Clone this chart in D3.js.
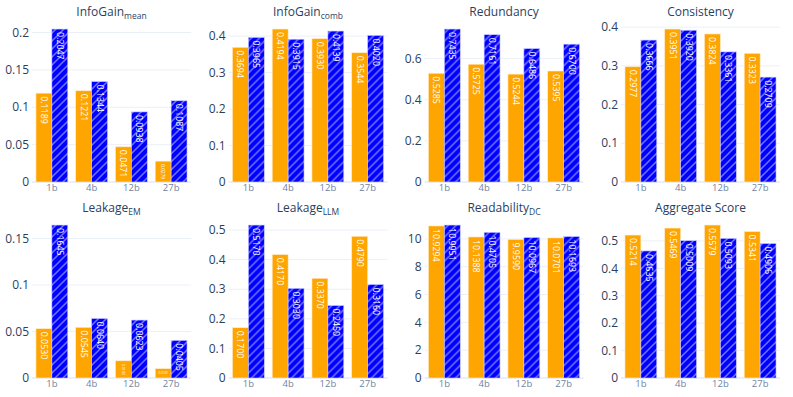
<!DOCTYPE html>
<html>
<head>
<meta charset="utf-8">
<script src="https://cdn.jsdelivr.net/npm/d3@7"></script>
<style>
  body { margin: 0; background: #fff; }
  svg { font-family: "Open Sans", verdana, arial, sans-serif; }
</style>
</head>
<body>
<svg id="chart" width="793" height="397"></svg>
<script>
// categories
const models = ['1b', '4b', '12b', '27b'];

// orange series (a) and hatched blue series (b), one pair per metric
const infoGainMeanA = [0.1189, 0.1221, 0.0471, 0.0279];
const infoGainMeanB = [0.2047, 0.1344, 0.0938, 0.1087];
const infoGainCombA = [0.3694, 0.4194, 0.3930, 0.3544];
const infoGainCombB = [0.3965, 0.3915, 0.4139, 0.4020];
const redundancyA = [0.5285, 0.5725, 0.5244, 0.5395];
const redundancyB = [0.7435, 0.7161, 0.6486, 0.6700];
const consistencyA = [0.2977, 0.3951, 0.3824, 0.3323];
const consistencyB = [0.3666, 0.3920, 0.3361, 0.2709];
const leakageEmA = [0.0530, 0.0545, 0.0185, 0.0100];
const leakageEmB = [0.1645, 0.0640, 0.0623, 0.0405];
const leakageLlmA = [0.1700, 0.4170, 0.3370, 0.4790];
const leakageLlmB = [0.5170, 0.3030, 0.2450, 0.3160];
const readabilityA = [10.9294, 10.1388, 9.9590, 10.0701];
const readabilityB = [10.9951, 10.4705, 10.0967, 10.1693];
const aggregateA = [0.5214, 0.5469, 0.5579, 0.5341];
const aggregateB = [0.4635, 0.5009, 0.5093, 0.4906];

// y tick values
const ticksInfoGainMean = [0, 0.05, 0.1, 0.15, 0.2];
const ticksInfoGainComb = [0, 0.1, 0.2, 0.3, 0.4];
const ticksRedundancy = [0, 0.2, 0.4, 0.6];
const ticksConsistency = [0, 0.1, 0.2, 0.3, 0.4];
const ticksLeakageEm = [0, 0.05, 0.1, 0.15];
const ticksLeakageLlm = [0, 0.1, 0.2, 0.3, 0.4, 0.5];
const ticksReadability = [0, 2, 4, 6, 8, 10];
const ticksAggregate = [0, 0.1, 0.2, 0.3, 0.4, 0.5];

const panels = [
    { title: 'InfoGain', sub: 'mean', a: infoGainMeanA, b: infoGainMeanB, ticks: ticksInfoGainMean },
    { title: 'InfoGain', sub: 'comb', a: infoGainCombA, b: infoGainCombB, ticks: ticksInfoGainComb },
    { title: 'Redundancy', sub: '', a: redundancyA, b: redundancyB, ticks: ticksRedundancy },
    { title: 'Consistency', sub: '', a: consistencyA, b: consistencyB, ticks: ticksConsistency },
    { title: 'Leakage', sub: 'EM', a: leakageEmA, b: leakageEmB, ticks: ticksLeakageEm },
    { title: 'Leakage', sub: 'LLM', a: leakageLlmA, b: leakageLlmB, ticks: ticksLeakageLlm },
    { title: 'Readability', sub: 'DC', a: readabilityA, b: readabilityB, ticks: ticksReadability },
    { title: 'Aggregate Score', sub: '', a: aggregateA, b: aggregateB, ticks: ticksAggregate }
];

const orange = '#FFA500', blue = '#0000FF';
const pw = 159, ph = 161;
const colX = [32, 228.5, 424.5, 621];
const rowY = [21, 217];
const TEXTPAD = 3, textSize = 10;

const svg = d3.select('#chart');

// hatch for the blue bars
const pat = svg.append('defs').append('pattern')
    .attr('id', 'hatch').attr('patternUnits', 'userSpaceOnUse')
    .attr('width', 8).attr('height', 8);
pat.append('rect').attr('width', 8).attr('height', 8).attr('fill', blue);
pat.append('path').attr('d', 'M0,8L8,0M-2,2L2,-2M6,10L10,6')
    .attr('stroke', 'rgba(255,255,255,0.45)').attr('stroke-width', 1.5);

const fmt = d3.format('~g');
const valFmt = d3.format('.4f');

panels.forEach((p, i) => {
    const x0 = colX[i % 4], y0 = rowY[Math.floor(i / 4)];
    const g = svg.append('g').attr('transform', 'translate(' + x0 + ',' + y0 + ')');

    const x = d3.scaleBand().domain(models).range([0, pw]).paddingInner(0.2).paddingOuter(0.1);
    const xs = d3.scaleBand().domain(['a', 'b']).range([0, x.bandwidth()]);
    const ymax = d3.max(p.a.concat(p.b)) / 0.95;
    const y = d3.scaleLinear().domain([0, ymax]).range([ph, 0]);

    // grid
    g.append('g').selectAll('line').data(p.ticks).enter().append('line')
        .attr('x1', 0).attr('x2', pw)
        .attr('y1', d => y(d)).attr('y2', d => y(d))
        .attr('stroke', '#EBF0F8').attr('stroke-width', d => d === 0 ? 2 : 1);

    // y labels
    g.append('g').selectAll('text').data(p.ticks).enter().append('text')
        .attr('x', -3).attr('y', d => y(d)).attr('dy', '0.35em')
        .attr('text-anchor', 'end').attr('font-size', 12).attr('fill', '#2a3f5f')
        .text(d => fmt(d));

    // x labels
    g.append('g').selectAll('text').data(models).enter().append('text')
        .attr('x', d => x(d) + x.bandwidth() / 2).attr('y', ph + 9)
        .attr('text-anchor', 'middle').attr('font-size', 9.5).attr('fill', '#7183a0')
        .text(d => d);

    // bars
    const bars = [];
    models.forEach((m, k) => {
        bars.push({ m: m, s: 'a', v: p.a[k] });
        bars.push({ m: m, s: 'b', v: p.b[k] });
    });

    g.append('g').selectAll('rect').data(bars).enter().append('rect')
        .attr('x', d => x(d.m) + xs(d.s))
        .attr('y', d => y(d.v))
        .attr('width', xs.bandwidth())
        .attr('height', d => ph - y(d.v))
        .attr('fill', d => d.s === 'a' ? orange : 'url(#hatch)')
        .attr('stroke', d => d.s === 'a' ? '#ffe9c4' : '#c8c8ff')
        .attr('stroke-width', 0.6);

    // inside labels, fitted like plotly's auto text angle
    bars.forEach(d => {
        const bx = x(d.m) + xs(d.s), bw = xs.bandwidth();
        const by = y(d.v), bh = ph - y(d.v);
        const t = g.append('text')
            .attr('font-size', textSize).attr('fill', '#fff')
            .attr('text-anchor', 'middle').attr('dominant-baseline', 'central')
            .text(valFmt(d.v));
        const tw = t.node().getComputedTextLength(), th = textSize * 1.12;
        const pad = (bw > 2 * TEXTPAD && bh > 2 * TEXTPAD) ? TEXTPAD : 0;
        const lx = bw - 2 * pad, ly = bh - 2 * pad;
        let rotate = 0;
        if (!(tw <= lx && th <= ly) && (!(tw > ly || th > lx) || ((tw < th) !== (lx < ly)))) rotate = 90;
        const w2 = rotate ? th : tw, h2 = rotate ? tw : th;
        const sc = Math.min(1, lx / w2, ly / h2);
        const cx = bx + bw / 2, cy = by + pad + h2 * sc / 2;
        t.attr('transform', 'translate(' + cx + ',' + cy + ') rotate(' + rotate + ') scale(' + sc + ')');
    });

    // title
    const tt = svg.append('text')
        .attr('x', x0 + pw / 2).attr('y', y0 - 5.5)
        .attr('text-anchor', 'middle').attr('font-size', 12).attr('fill', '#2a3f5f');
    tt.append('tspan').text(p.title);
    if (p.sub) {
        tt.append('tspan').attr('font-size', 8.5).attr('dy', 3).text(p.sub);
    }
});
</script>
</body>
</html>
